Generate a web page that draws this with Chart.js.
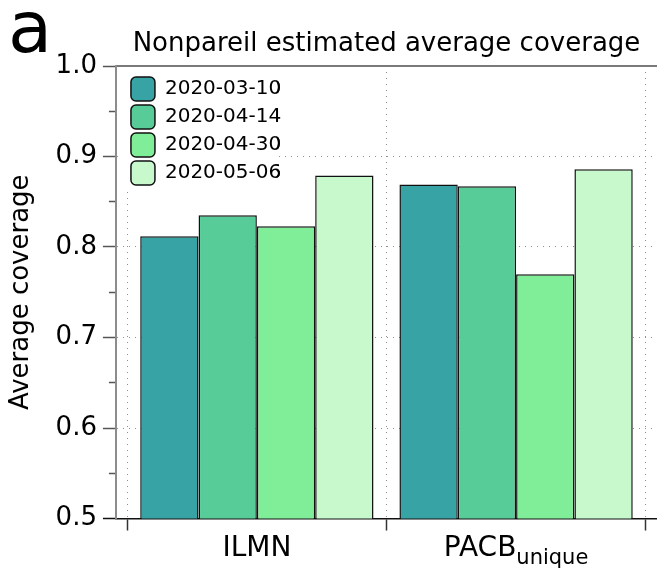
<!DOCTYPE html>
<html>
<head>
<meta charset="utf-8">
<script src="https://cdn.jsdelivr.net/npm/chart.js@4.4.1/dist/chart.umd.min.js"></script>
<style>
  html, body { margin: 0; padding: 0; background: #ffffff; }
  #wrap { width: 657px; height: 575px; }
  canvas { display: block; }
</style>
</head>
<body>
<div id="wrap"><canvas id="chart" width="657" height="575"></canvas></div>
<script>
// ---- data ----
const categories = ['ILMN', 'PACB'];
const categorySubscripts = ['', 'unique'];
const seriesNames = ['2020-03-10', '2020-04-14', '2020-04-30', '2020-05-06'];
const cov_2020_03_10 = [0.812, 0.869];
const cov_2020_04_14 = [0.835, 0.867];
const cov_2020_04_30 = [0.823, 0.770];
const cov_2020_05_06 = [0.879, 0.886];
const yTickMin = 0.5;
const yTickMax = 1.0;
const yMinorStep = 0.05;
const yMajorStep = 0.1;
const panelLabel = 'a';
const titleText = 'Nonpareil estimated average coverage';
const yAxisTitle = 'Average coverage';

// ---- styles ----
const FONT = 'DejaVu Sans';
const seriesColors = ['#38A3A5', '#57CC99', '#80ED99', '#C7F9CC'];
const seriesValues = [cov_2020_03_10, cov_2020_04_14, cov_2020_04_30, cov_2020_05_06];
const GRID = '#8f8f8f';
const CLEAR = 'rgba(0,0,0,0)';
const xPad = 0.0436;
const X_TICK_LEN = 12;
const X_TICK_PAD = 1.5;
const X_FONT_SIZE = 28;

const isBoundary = v => Math.abs(v - Math.round(v)) > 0.25;
const isMajorY = v => Math.abs(v / yMajorStep - Math.round(v / yMajorStep)) < 1e-6;
const near = (a, b) => Math.abs(a - b) < 1e-6;

const datasets = seriesNames.map((name, s) => ({
  label: name,
  data: categories.map((c, i) => ({ x: i + 1, y: seriesValues[s][i] })),
  backgroundColor: seriesColors[s],
  borderColor: '#111111',
  borderWidth: 1.5,
  borderSkipped: 'start',
  categoryPercentage: 1.8,
  barPercentage: 1.0
}));

const decorPlugin = {
  id: 'decor',
  afterLayout(chart) {
    if (chart.legend) {
      chart.legend.left = chart.chartArea.left + 11;
      chart.legend.top = chart.chartArea.top + 7;
    }
  },
  afterDraw(chart) {
    const ctx = chart.ctx;
    const xs = chart.scales.x;
    ctx.save();
    // legend background (white, as in reference) then legend on top
    ctx.fillStyle = '#ffffff';
    ctx.fillRect(chart.chartArea.left + 2.5, chart.chartArea.top + 5, 158, 120);
    ctx.restore();
    chart.legend.draw();

    ctx.save();
    // panel label
    ctx.fillStyle = '#000';
    ctx.font = '72px "' + FONT + '"';
    ctx.textBaseline = 'alphabetic';
    ctx.textAlign = 'left';
    ctx.fillText(panelLabel, 8, 52);

    // category labels with subscripts
    const mainFont = X_FONT_SIZE + 'px "' + FONT + '"';
    const subFont = '21px "' + FONT + '"';
    const yMid = xs.top + X_TICK_LEN + X_TICK_PAD + X_FONT_SIZE * 1.2 / 2;
    categories.forEach((c, i) => {
      const sub = categorySubscripts[i];
      if (!sub) return;
      const cx = xs.getPixelForValue(i + 1);
      ctx.font = mainFont;
      const w1 = ctx.measureText(c).width;
      ctx.font = subFont;
      const w2 = ctx.measureText(sub).width;
      const x0 = cx - (w1 + w2) / 2;
      ctx.textBaseline = 'middle';
      ctx.textAlign = 'left';
      ctx.font = mainFont;
      ctx.fillText(c, x0, yMid);
      ctx.font = subFont;
      ctx.fillText(sub, x0 + w1, yMid + 10);
    });
    ctx.restore();
  }
};

new Chart(document.getElementById('chart'), {
  type: 'bar',
  data: { datasets },
  plugins: [decorPlugin],
  options: {
    responsive: false,
    animation: false,
    devicePixelRatio: 1,
    layout: { padding: { left: 0, right: 0, top: 0, bottom: 7.9 } },
    plugins: {
      tooltip: { enabled: false },
      title: {
        display: true,
        text: titleText,
        fullSize: false,
        color: '#000',
        font: { family: FONT, size: 26, weight: 'normal' },
        padding: { top: 28.6, bottom: 6.2 }
      },
      legend: {
        position: 'chartArea',
        align: 'start',
        labels: {
          color: '#000',
          font: { family: FONT, size: 20 },
          boxWidth: 24,
          boxHeight: 24,
          padding: 4,
          useBorderRadius: true,
          borderRadius: 5
        }
      }
    },
    scales: {
      x: {
        type: 'linear',
        position: 'bottom',
        offset: false,
        bounds: 'data',
        min: 0.5 - xPad,
        max: categories.length + 0.5 + xPad,
        afterBuildTicks(axis) {
          const t = [];
          for (let i = 0; i <= categories.length; i++) {
            t.push({ value: i + 0.5 });
            if (i < categories.length) t.push({ value: i + 1 });
          }
          t.sort((a, b) => a.value - b.value);
          axis.ticks = t;
        },
        ticks: {
          autoSkip: false,
          maxRotation: 0,
          minRotation: 0,
          padding: X_TICK_PAD,
          color: '#000',
          font: { family: FONT, size: X_FONT_SIZE },
          callback(value) {
            if (isBoundary(value)) return '';
            const i = Math.round(value) - 1;
            return categorySubscripts[i] ? '' : categories[i];
          }
        },
        grid: {
          display: true,
          offset: false,
          drawOnChartArea: true,
          drawTicks: true,
          tickLength: X_TICK_LEN,
          tickWidth: 1.5,
          lineWidth: 1,
          color: c => (c.tick && isBoundary(c.tick.value)) ? GRID : CLEAR,
          tickColor: c => (c.tick && isBoundary(c.tick.value)) ? '#333' : CLEAR
        },
        border: { display: true, color: '#111', width: 1.5, dash: [1, 5] }
      },
      xTop: {
        type: 'linear',
        position: 'top',
        display: true,
        offset: false,
        ticks: { display: false },
        grid: { display: false, drawTicks: false, offset: false },
        border: { display: true, color: '#7a7a7a', width: 2 }
      },
      y: {
        type: 'linear',
        min: yTickMin,
        max: yTickMax,
        ticks: {
          stepSize: yMinorStep,
          autoSkip: false,
          padding: 6,
          color: '#000',
          font: { family: FONT, size: 26 },
          callback(value) { return isMajorY(value) ? value.toFixed(1) : ''; }
        },
        grid: {
          display: true,
          drawTicks: true,
          tickLength: 13,
          tickWidth: 1.5,
          lineWidth: 1,
          color: c => (c.tick && isMajorY(c.tick.value) && !near(c.tick.value, yTickMin) && !near(c.tick.value, yTickMax)) ? GRID : CLEAR,
          tickColor: c => (c.tick && near(c.tick.value, yTickMin)) ? '#111' : '#555',
          tickBorderDash: c => (c.tick && isMajorY(c.tick.value)) ? [] : [0, 6, 7, 100]
        },
        border: { display: true, color: '#8c8c8c', width: 2, dash: [1, 5] },
        title: {
          display: true,
          text: yAxisTitle,
          color: '#000',
          font: { family: FONT, size: 26 },
          padding: { top: 5.4, bottom: 13 }
        }
      }
    }
  }
});
</script>
</body>
</html>
